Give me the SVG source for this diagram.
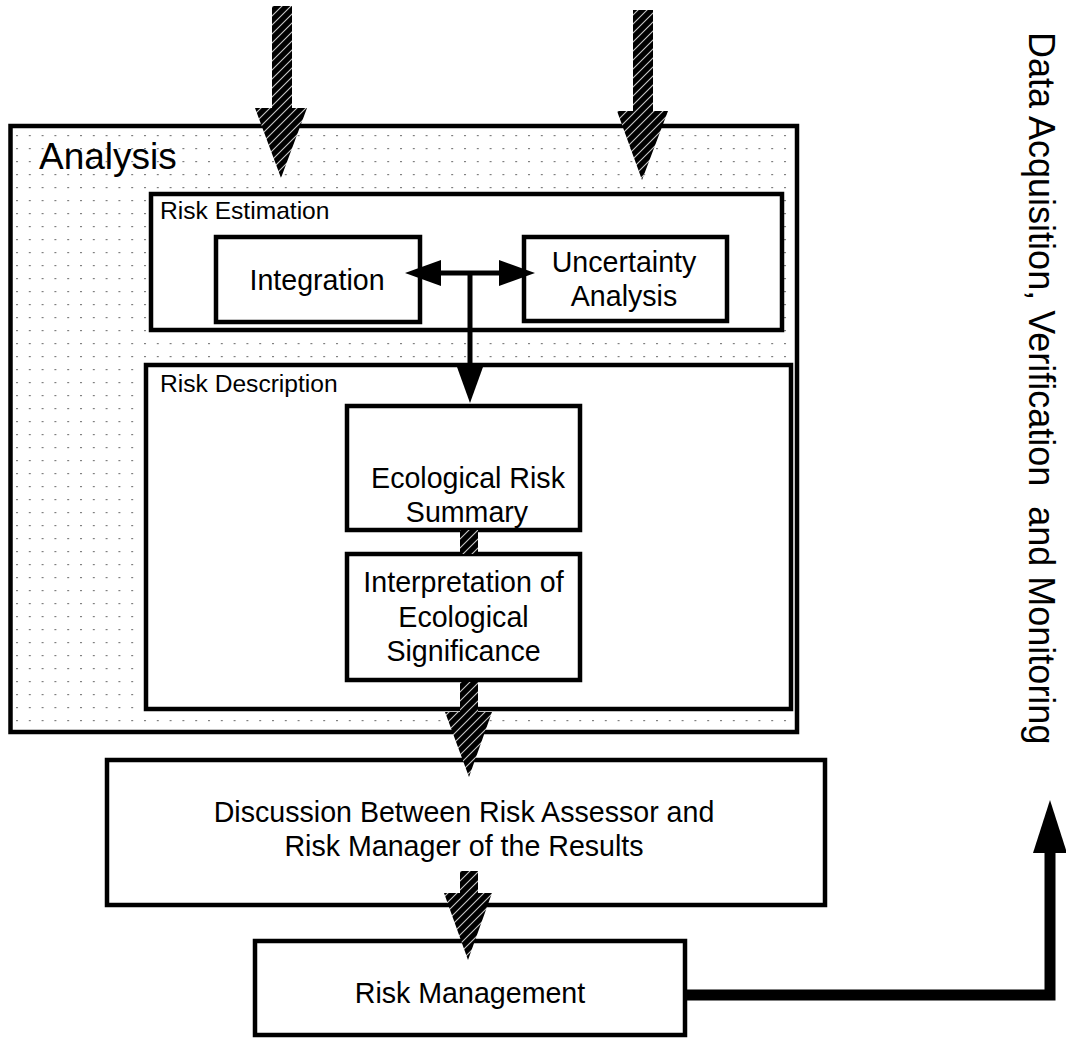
<svg xmlns="http://www.w3.org/2000/svg" width="1066" height="1050" viewBox="0 0 1066 1050">
  <defs>
    <!-- fine dot grid used inside the Analysis frame -->
    <pattern id="dots" patternUnits="userSpaceOnUse" x="3.2" y="5" width="12.8" height="13">
      <rect x="0" y="0" width="2" height="1.2" fill="#808080"/>
    </pattern>
    <!-- black fill with light diagonal stripes for the flow arrows -->
    <pattern id="hatch" patternUnits="userSpaceOnUse" width="9" height="9">
      <rect width="9" height="9" fill="#000"/>
      <path d="M-1,1 L1,-1 M0,9 L9,0 M8,10 L10,8" stroke="#c8c8c8" stroke-width="1.1"/>
    </pattern>
    <marker id="headS" markerUnits="userSpaceOnUse" markerWidth="40" markerHeight="30" refX="0" refY="13" orient="auto">
      <path d="M0,0 L36,13 L0,26 z" fill="#000"/>
    </marker>
    <marker id="headL" markerUnits="userSpaceOnUse" markerWidth="60" markerHeight="40" refX="0" refY="17" orient="auto">
      <path d="M0,0 L53,17 L0,34 z" fill="#000"/>
    </marker>
  </defs>
  <style>
    .box { fill: #fff; stroke: #000; stroke-width: 4.5; }
    .frame { fill: url(#dots); stroke: #000; stroke-width: 4.5; }
    .lbl { font-family: "Liberation Sans", Arial, Helvetica, sans-serif; fill: #000; }
    .big { font-size: 37px; }
    .side { font-size: 36px; white-space: pre; }
    .mid { font-size: 28.6px; text-anchor: middle; }
    .sm { font-size: 24.6px; }
    .hatch { fill: url(#hatch); stroke: none; }
    .wire { fill: none; stroke: #000; stroke-width: 5; }
    .thick { fill: none; stroke: #000; stroke-width: 11; stroke-linejoin: miter; }
  </style>

  <!-- Analysis frame with its two sub-frames -->
  <g id="analysis">
    <rect class="frame" x="10.5" y="126" width="786.5" height="606"/>
    <text class="lbl big" x="39" y="169">Analysis</text>
  </g>
  <g id="risk-estimation">
    <rect class="box" x="151" y="194" width="631" height="136"/>
    <text class="lbl sm" x="160" y="219">Risk Estimation</text>
  </g>
  <g id="integration">
    <rect class="box" x="216" y="237" width="204" height="85"/>
    <text class="lbl mid" x="317" y="290">Integration</text>
  </g>
  <g id="uncertainty">
    <rect class="box" x="524" y="237" width="203" height="84"/>
    <text class="lbl mid" x="624" y="272">Uncertainty</text>
    <text class="lbl mid" x="624" y="306">Analysis</text>
  </g>
  <g id="risk-description">
    <rect class="box" x="146" y="365" width="645" height="344"/>
    <text class="lbl sm" x="160" y="392">Risk Description</text>
  </g>
  <g id="risk-summary">
    <rect class="box" x="347" y="406" width="233" height="124"/>
    <text class="lbl mid" x="468" y="488">Ecological Risk</text>
    <text class="lbl mid" x="467" y="522">Summary</text>
  </g>
  <g id="interpretation">
    <rect class="box" x="347" y="554" width="233" height="126"/>
    <text class="lbl mid" x="463.5" y="592">Interpretation of</text>
    <text class="lbl mid" x="463.5" y="627">Ecological</text>
    <text class="lbl mid" x="463.5" y="661">Significance</text>
  </g>
  <g id="discussion">
    <rect class="box" x="107" y="760" width="718" height="145"/>
    <text class="lbl mid" x="464" y="822">Discussion Between Risk Assessor and</text>
    <text class="lbl mid" x="464" y="856">Risk Manager of the Results</text>
  </g>
  <g id="risk-management">
    <rect class="box" x="255" y="941" width="430" height="94"/>
    <text class="lbl mid" x="470" y="1003">Risk Management</text>
  </g>
  <g id="side-label">
    <text class="lbl side" transform="translate(1029,32) rotate(90)">Data Acquisition, Verification  and Monitoring</text>
  </g>

  <!-- connectors -->
  <g id="connectors">
    <!-- hatched flow arrows -->
    <path class="hatch" d="M272,6 H292 V108 H307 L281,178 L255,108 H272 Z"/>
    <path class="hatch" d="M633,10 H653 V111 H668 L642,180 L617,111 H633 Z"/>
    <rect class="hatch" x="460" y="530" width="18" height="24"/>
    <path class="hatch" d="M460,682 H478 V712 H492 L469,777 L445,712 H460 Z"/>
    <path class="hatch" d="M460,871 H478 V893 H492 L468,960 L444,893 H460 Z"/>
    <!-- solid connectors inside Risk Estimation -->
    <path class="wire" d="M470,273 H441" marker-end="url(#headS)"/>
    <path class="wire" d="M470,273 H499" marker-end="url(#headS)"/>
    <path class="wire" d="M470,271 V367" marker-end="url(#headS)"/>
    <!-- feedback path to data acquisition -->
    <path class="thick" d="M685,995 H1050 V853" marker-end="url(#headL)"/>
  </g>
</svg>
